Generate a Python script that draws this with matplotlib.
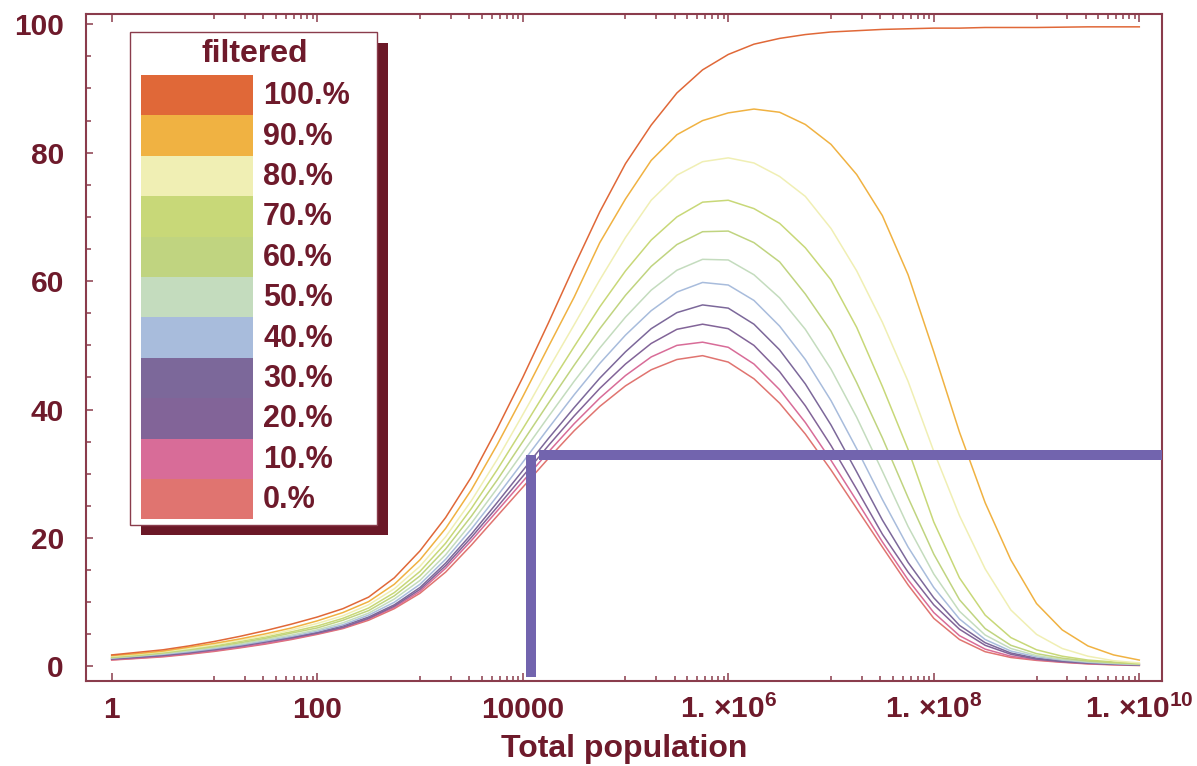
import numpy as np
import matplotlib.pyplot as plt
from matplotlib.patches import Rectangle
from matplotlib.ticker import FixedLocator
import matplotlib.transforms as mtransforms

plt.rcParams['font.family'] = ['Liberation Sans', 'DejaVu Sans']
plt.rcParams['font.weight'] = 'bold'
plt.rcParams['mathtext.default'] = 'regular'

# log10(total population) sample points shared by all curves (quarter decades)
log_pop = [0, 0.25, 0.5, 0.75, 1, 1.25, 1.5, 1.75, 2, 2.25, 2.5, 2.75, 3, 3.25, 3.5, 3.75,
           4, 4.25, 4.5, 4.75, 5, 5.25, 5.5, 5.75, 6, 6.25, 6.5, 6.75, 7, 7.25, 7.5, 7.75,
           8, 8.25, 8.5, 8.75, 9, 9.25, 9.5, 9.75, 10]

f100 = [1.8, 2.2, 2.6, 3.2, 3.9, 4.7, 5.6, 6.6, 7.7, 9.0, 10.8, 13.8, 18.0, 23.2, 29.5, 37.0,
        45.0, 53.5, 62.3, 70.8, 78.3, 84.3, 89.3, 92.9, 95.3, 96.9, 97.8, 98.4, 98.8, 99.0, 99.2, 99.3,
        99.4, 99.4, 99.5, 99.5, 99.5, 99.55, 99.6, 99.6, 99.6]
f90 = [1.7, 2.0, 2.4, 3.0, 3.6, 4.3, 5.1, 6.0, 7.1, 8.4, 10.1, 12.8, 16.6, 21.5, 27.5, 34.5,
       42.0, 49.8, 57.5, 66.0, 72.8, 78.8, 82.8, 85.0, 86.2, 86.8, 86.3, 84.4, 81.3, 76.6, 70.2, 61.0,
       49.0, 36.5, 25.5, 16.6, 9.8, 5.7, 3.2, 1.8, 1.0]
f80 = [1.6, 1.9, 2.3, 2.8, 3.4, 4.1, 4.8, 5.7, 6.7, 7.9, 9.6, 12.1, 15.6, 20.2, 25.8, 32.2,
       39.2, 46.3, 53.2, 60.2, 66.8, 72.6, 76.5, 78.6, 79.2, 78.4, 76.3, 73.2, 68.2, 61.6, 53.6, 44.4,
       33.5, 23.5, 15.2, 8.8, 5.0, 2.8, 1.6, 0.9, 0.55]
f70 = [1.5, 1.8, 2.2, 2.7, 3.2, 3.9, 4.6, 5.4, 6.3, 7.5, 9.1, 11.5, 14.8, 19.2, 24.6, 30.6,
       37.0, 43.5, 49.8, 56.0, 61.6, 66.4, 70.0, 72.3, 72.6, 71.3, 69.0, 65.2, 60.2, 52.8, 43.6, 33.8,
       22.5, 13.8, 8.0, 4.5, 2.6, 1.6, 1.0, 0.7, 0.45]
f60 = [1.4, 1.7, 2.1, 2.6, 3.1, 3.7, 4.4, 5.2, 6.0, 7.2, 8.7, 11.0, 14.1, 18.3, 23.4, 29.0,
       35.0, 41.0, 46.9, 52.6, 57.8, 62.3, 65.7, 67.7, 67.8, 66.0, 63.0, 58.0, 52.2, 44.2, 35.6, 26.3,
       17.5, 10.4, 5.9, 3.3, 2.0, 1.3, 0.85, 0.6, 0.4]
f50 = [1.35, 1.65, 2.0, 2.45, 2.95, 3.5, 4.2, 4.9, 5.7, 6.8, 8.3, 10.5, 13.4, 17.4, 22.3, 27.7,
       33.3, 38.9, 44.4, 49.6, 54.4, 58.6, 61.7, 63.4, 63.3, 61.0, 57.4, 52.5, 46.3, 38.8, 30.4, 21.8,
       14.4, 8.6, 4.9, 2.8, 1.7, 1.1, 0.75, 0.5, 0.35]
f40 = [1.3, 1.6, 1.9, 2.3, 2.8, 3.35, 4.0, 4.7, 5.5, 6.5, 8.0, 10.0, 12.8, 16.7, 21.4, 26.5,
       31.8, 37.1, 42.3, 47.2, 51.6, 55.4, 58.3, 59.8, 59.4, 57.0, 53.0, 47.8, 41.4, 33.9, 26.0, 18.6,
       12.3, 7.4, 4.2, 2.4, 1.5, 1.0, 0.65, 0.45, 0.3]
f30 = [1.2, 1.5, 1.8, 2.2, 2.7, 3.25, 3.9, 4.55, 5.3, 6.3, 7.7, 9.6, 12.3, 16.1, 20.6, 25.5,
       30.5, 35.5, 40.3, 44.9, 49.0, 52.6, 55.1, 56.3, 55.8, 53.3, 49.3, 44.0, 37.6, 30.3, 22.8, 16.2,
       10.7, 6.4, 3.7, 2.1, 1.3, 0.85, 0.55, 0.4, 0.25]
f20 = [1.15, 1.4, 1.7, 2.1, 2.6, 3.15, 3.8, 4.45, 5.2, 6.1, 7.5, 9.4, 12.0, 15.7, 20.1, 24.8,
       29.6, 34.4, 39.0, 43.3, 47.1, 50.3, 52.5, 53.3, 52.6, 50.0, 45.9, 40.6, 34.4, 27.6, 20.6, 14.7,
       9.6, 5.8, 3.3, 1.9, 1.15, 0.75, 0.5, 0.35, 0.2]
f10 = [1.05, 1.3, 1.6, 2.0, 2.45, 3.0, 3.6, 4.3, 5.1, 6.0, 7.4, 9.2, 11.7, 15.3, 19.6, 24.2,
       28.8, 33.4, 37.8, 41.8, 45.3, 48.2, 50.0, 50.5, 49.7, 47.1, 43.1, 38.0, 32.1, 25.8, 19.4, 13.5,
       8.4, 4.8, 2.7, 1.6, 1.05, 0.7, 0.45, 0.3, 0.2]
f0 = [1.0, 1.25, 1.5, 1.9, 2.35, 2.9, 3.5, 4.2, 5.0, 5.9, 7.2, 9.0, 11.4, 14.7, 18.9, 23.4,
      27.9, 32.4, 36.7, 40.5, 43.7, 46.2, 47.8, 48.4, 47.4, 44.8, 41.0, 36.2, 30.6, 24.6, 18.6, 12.7,
      7.5, 4.2, 2.3, 1.4, 0.95, 0.65, 0.4, 0.25, 0.15]

curves = [f100, f90, f80, f70, f60, f50, f40, f30, f20, f10, f0]
levels = ['100.%', '90.%', '80.%', '70.%', '60.%', '50.%', '40.%', '30.%', '20.%', '10.%', '0.%']
colors = ['#E06838', '#F0B242', '#F0EFB4', '#C8D878', '#C0D480', '#C4DCBE',
          '#A8BCDC', '#7C689A', '#826498', '#D86C98', '#E07470']

# threshold marker: population cut and 33% level
cut_pop = 12000
level_start = 14500
level_y = 33

xtick_vals = [1, 100, 1e4, 1e6, 1e8, 1e10]
xtick_text = ['1', '100', '10000', '1. ×10$^{6}$', '1. ×10$^{8}$', '1. ×10$^{10}$']
ytick_vals = [0, 20, 40, 60, 80, 100]

text_c = '#6E1A2B'
frame_c = '#8A3C4C'
mark_c = '#7264AE'

W, H = 1197, 766
fig = plt.figure(figsize=(W / 100, H / 100), dpi=100)
ax = fig.add_axes([86 / W, 1 - 681 / H, (1162 - 86) / W, (681 - 14) / H])

x = 10.0 ** np.array(log_pop)
for ys, c in zip(curves[::-1], colors[::-1]):
    ax.plot(x, ys, color=c, lw=1.1, zorder=2)

ax.plot([cut_pop, cut_pop], [-1.7, level_y], color=mark_c, lw=7.2,
        solid_capstyle='butt', zorder=3)
ax.plot([level_start, 1e11], [level_y, level_y], color=mark_c, lw=7.2,
        solid_capstyle='butt', zorder=3)

ax.set_xscale('log')
ax.set_xlim(10 ** -0.25, 10 ** 10.221)
ax.set_ylim(-2.26, 101.6)

for s in ax.spines.values():
    s.set_color(frame_c)
    s.set_linewidth(1.5)

ax.xaxis.set_major_locator(FixedLocator(xtick_vals))
minor_x = [k * 10.0 ** e for e in (1, 3, 5, 7, 9) for k in range(1, 10)]
ax.xaxis.set_minor_locator(FixedLocator(minor_x))
ax.set_xticklabels([])
ax.tick_params(axis='x', which='both', direction='in', top=True, bottom=True,
               color=frame_c, width=1.1, labelbottom=False)
ax.tick_params(axis='x', which='major', length=6.0)
ax.tick_params(axis='x', which='minor', length=3.3)

ax.set_yticks(ytick_vals)
ax.set_yticklabels([str(v) for v in ytick_vals])
ax.yaxis.set_minor_locator(FixedLocator([v for v in range(5, 100, 5) if v % 20]))
ax.tick_params(axis='y', which='both', direction='in', left=True, right=False,
               color=frame_c, width=1.1, labelsize=21.5, labelcolor=text_c, pad=16)
ax.tick_params(axis='y', which='major', length=4.8)
ax.tick_params(axis='y', which='minor', length=3.3)

trans = mtransforms.blended_transform_factory(ax.transData, ax.transAxes)
for v, t in zip(xtick_vals, xtick_text):
    ax.text(v, -0.0555, t, transform=trans, ha='center', va='baseline',
            fontsize=21.5, color=text_c, clip_on=False)

fig.text(624 / W, 1 - 757 / H, 'Total population', ha='center', va='baseline',
         fontsize=23, color=text_c)


def px_rect(x0, y0, x1, y1, **kw):
    # rectangle given in figure pixels (origin top-left)
    r = Rectangle((x0 / W, 1 - y1 / H), (x1 - x0) / W, (y1 - y0) / H,
                  transform=fig.transFigure, **kw)
    fig.add_artist(r)


# legend box with drop shadow
px_rect(141, 43, 388, 535, facecolor='#6B1827', edgecolor='none', zorder=5)
px_rect(129.5, 32, 376.5, 525, facecolor='white', edgecolor=frame_c, lw=1.0, zorder=6)
fig.text(255 / W, 1 - 54 / H, 'filtered', ha='center', va='center',
         fontsize=23, color=text_c, zorder=7)
top, step = 75, 40.4
for i, (lab, c) in enumerate(zip(levels, colors)):
    y0 = top + i * step
    px_rect(141, y0, 253, y0 + step, facecolor=c, edgecolor='none', zorder=7)
    fig.text(263 / W, 1 - (y0 + step / 2 + 1) / H, lab, ha='left', va='center',
             fontsize=22, color=text_c, zorder=7)

fig.savefig('out.png', dpi=100)
